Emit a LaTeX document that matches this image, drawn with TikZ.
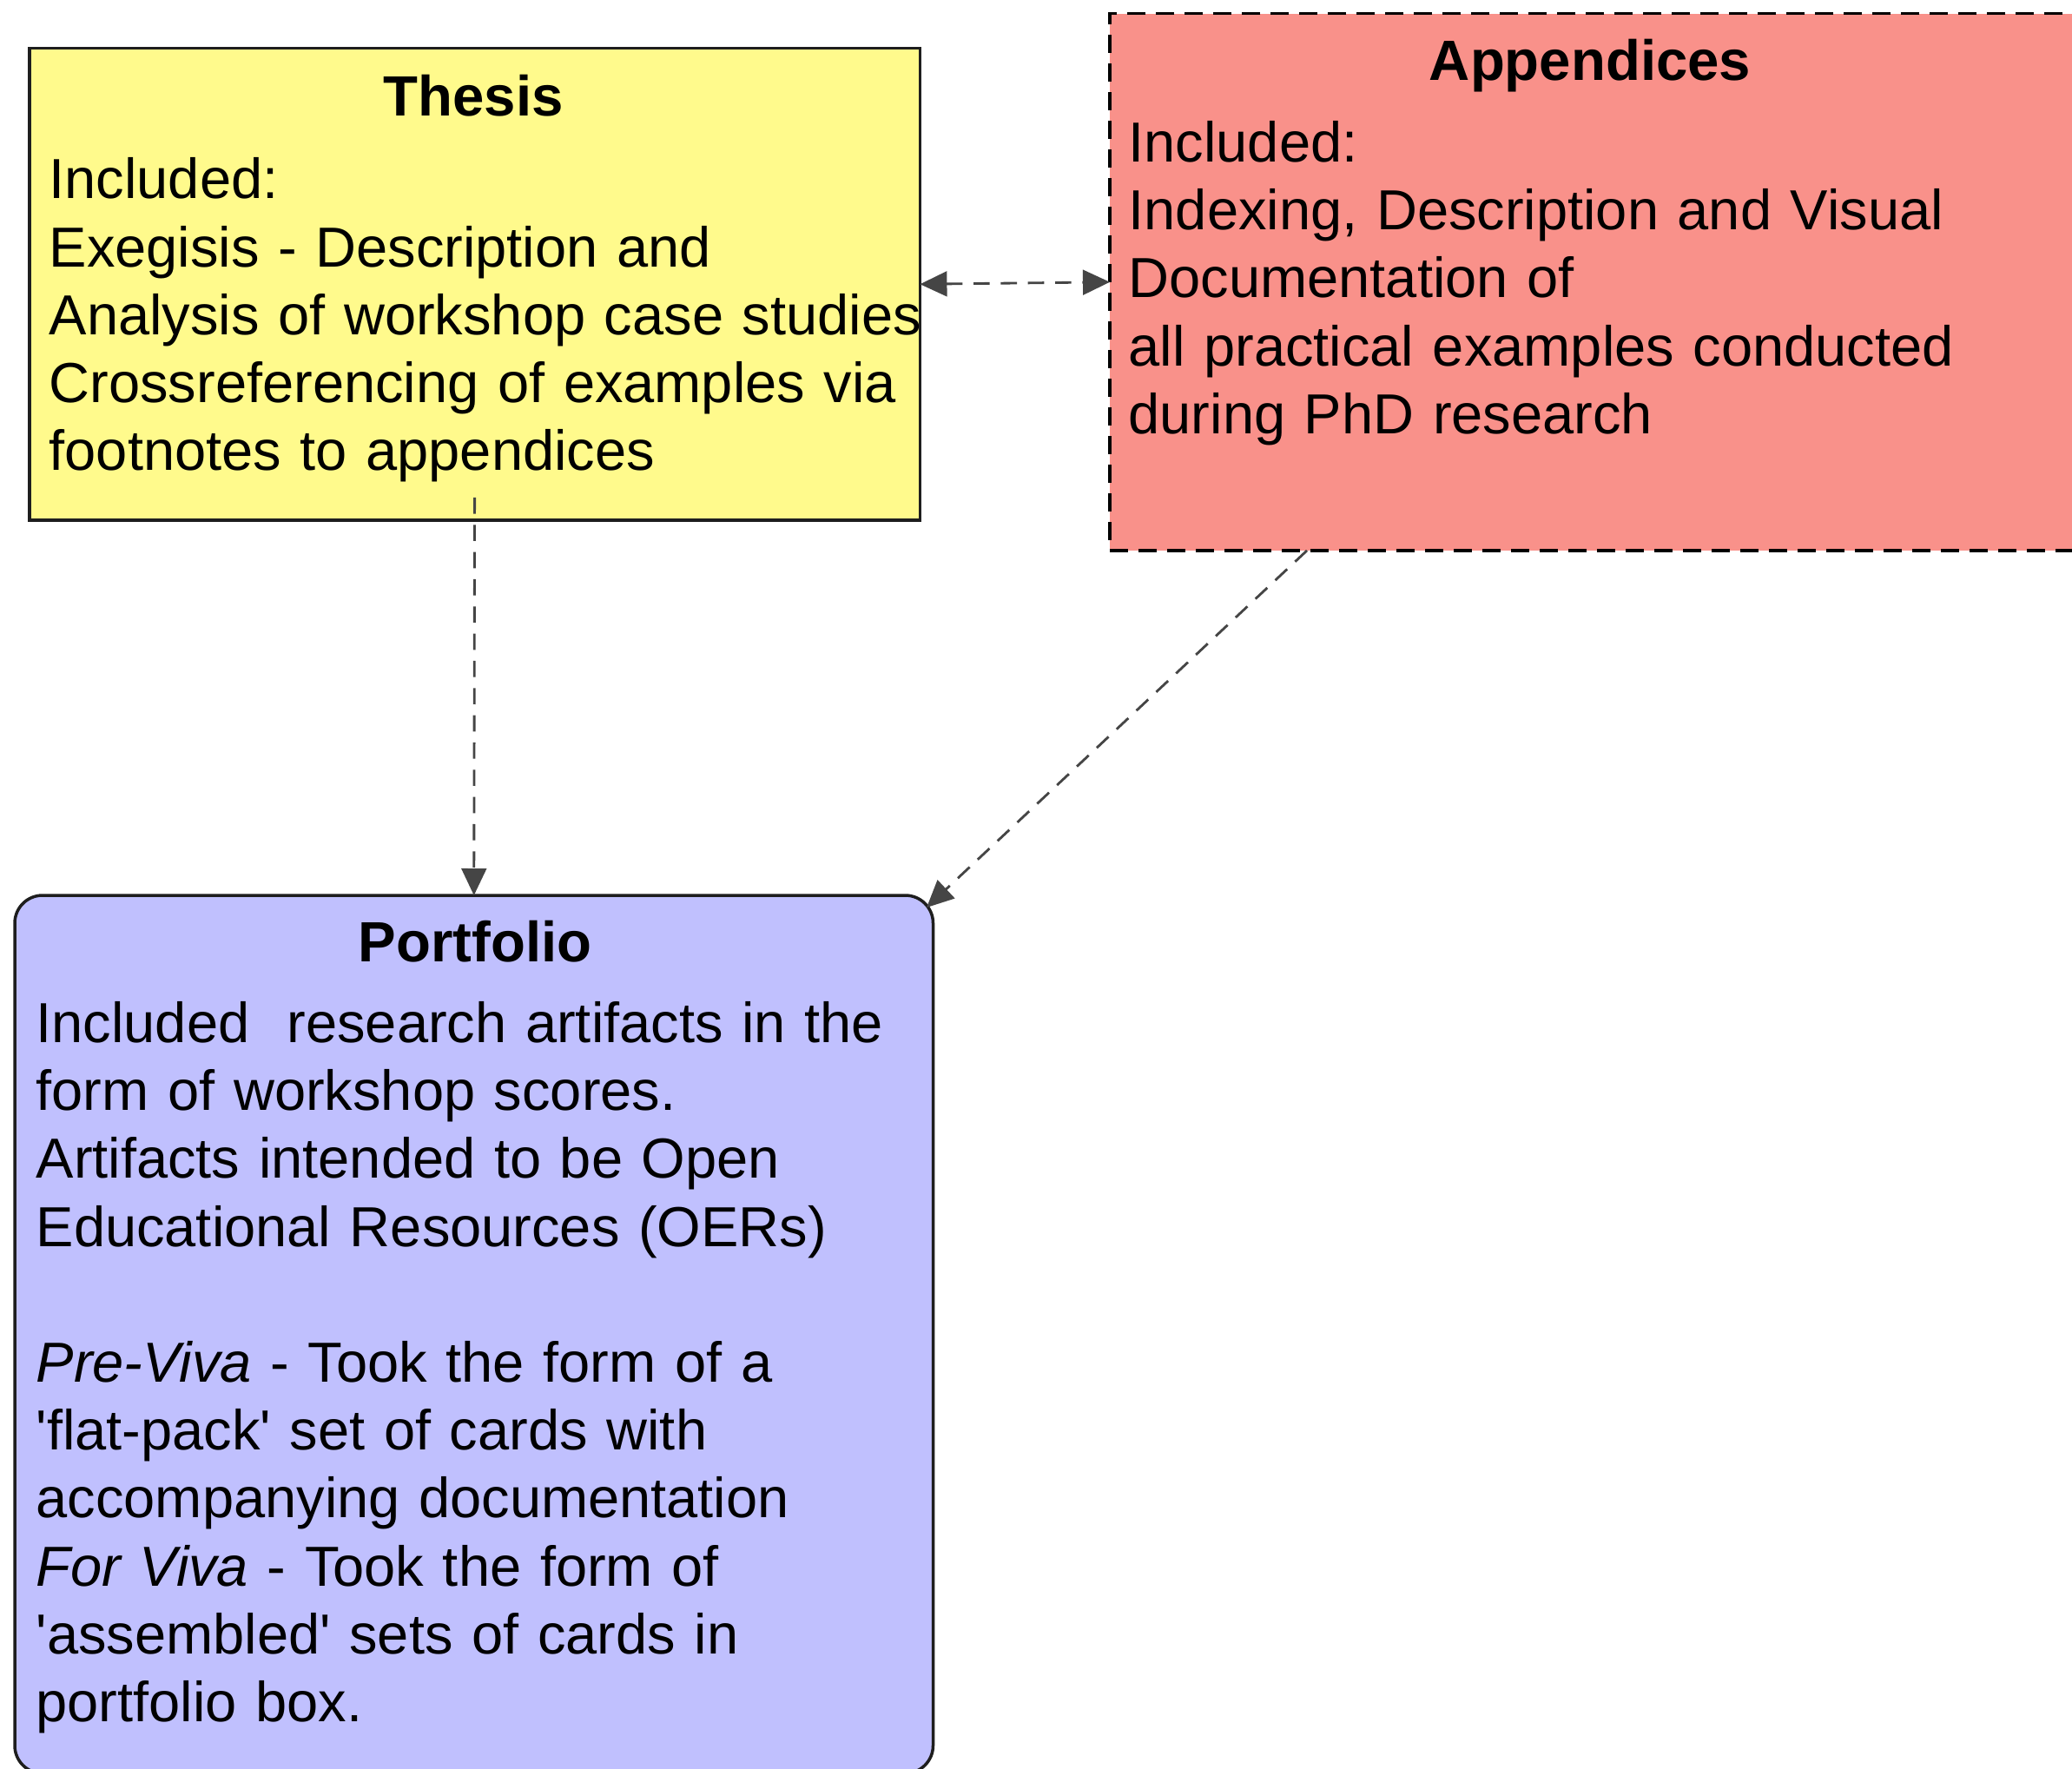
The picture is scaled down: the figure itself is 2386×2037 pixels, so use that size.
\documentclass[tikz,border=0pt]{standalone}
\usepackage{fontspec}
\setmainfont{Liberation Sans}
\usetikzlibrary{arrows.meta}

\definecolor{thesisfill}{HTML}{FFFA8C}
\definecolor{appfill}{HTML}{F9918A}
\definecolor{portfill}{HTML}{C0C0FE}
\definecolor{edgec}{HTML}{1E1E1E}
\definecolor{linkc}{HTML}{454545}

\begin{document}
\begin{tikzpicture}[x=0.3pt, y=-0.3pt,
  panel/.style={draw=edgec, line width=1.05pt, inner sep=0pt, outer sep=0pt},
  heading/.style={font=\fontsize{19.6}{23.46}\selectfont\bfseries, anchor=base, inner sep=0pt},
  body/.style={font=\fontsize{19.5}{23.46}\selectfont, anchor=base west, inner sep=0pt,
               text width=420pt, align=left},
  link/.style={draw=linkc, line width=0.85pt, dash pattern=on 5.6pt off 3.8pt,
               >={Triangle[length=9.3pt, width=8.6pt]}}
]
  % page frame
  \useasboundingbox (0,0) rectangle (2386,2037);
  \fill[white] (0,0) rectangle (2386,2037);
  \clip (0,0) rectangle (2386,2037);

  % the three panels
  \node[panel, fill=thesisfill, minimum width=307.7pt, minimum height=163.05pt]
    (thesis) at (546.6,327.25) {};
  \node[panel, draw=black, fill=appfill, dash pattern=on 6.3pt off 3.6pt,
        minimum width=334.2pt, minimum height=185.5pt]
    (app) at (1835,324.8) {};
  \node[panel, fill=portfill, rounded corners=9.6pt,
        minimum width=317.25pt, minimum height=303.3pt]
    (port) at (545.75,1536.5) {};

  % panel texts
  \node[heading] (thesis-title) at (545,133.5) {Thesis};
  \node[body] (thesis-text) at (56,229) {Included:\\
    Exegisis - Description and\\
    Analysis of workshop case studies\\
    Crossreferencing of examples via\\
    footnotes to appendices};

  \node[heading] (app-title) at (1831,92.4) {Appendices};
  \node[body] (app-text) at (1299,186.6) {Included:\\
    Indexing, Description and Visual\\
    Documentation of\\
    all practical examples conducted\\
    during PhD research};

  \node[heading] (port-title) at (547,1107.8) {Portfolio};
  \node[body] (port-text) at (41,1200.4) {Included~~research artifacts in the\\
    form of workshop scores.\\
    Artifacts intended to be Open\\
    Educational Resources (OERs)\\
    \mbox{}\\
    \textit{Pre-Viva} - Took the form of a\\
    \textquotesingle flat-pack\textquotesingle{} set of cards with\\
    accompanying documentation\\
    \textit{For Viva} - Took the form of\\
    \textquotesingle assembled\textquotesingle{} sets of cards in\\
    portfolio box.};

  % connectors
  \draw[link, <->] (thesis.east) -- (app.west);
  \draw[link, ->] ([yshift=7.8pt]thesis.south) -- (port.north);
  \draw[link, ->] ([xshift=68.1pt]app.south west)
    -- ([xshift=-2.25pt, yshift=-4.2pt]port.north east);
\end{tikzpicture}
\end{document}
